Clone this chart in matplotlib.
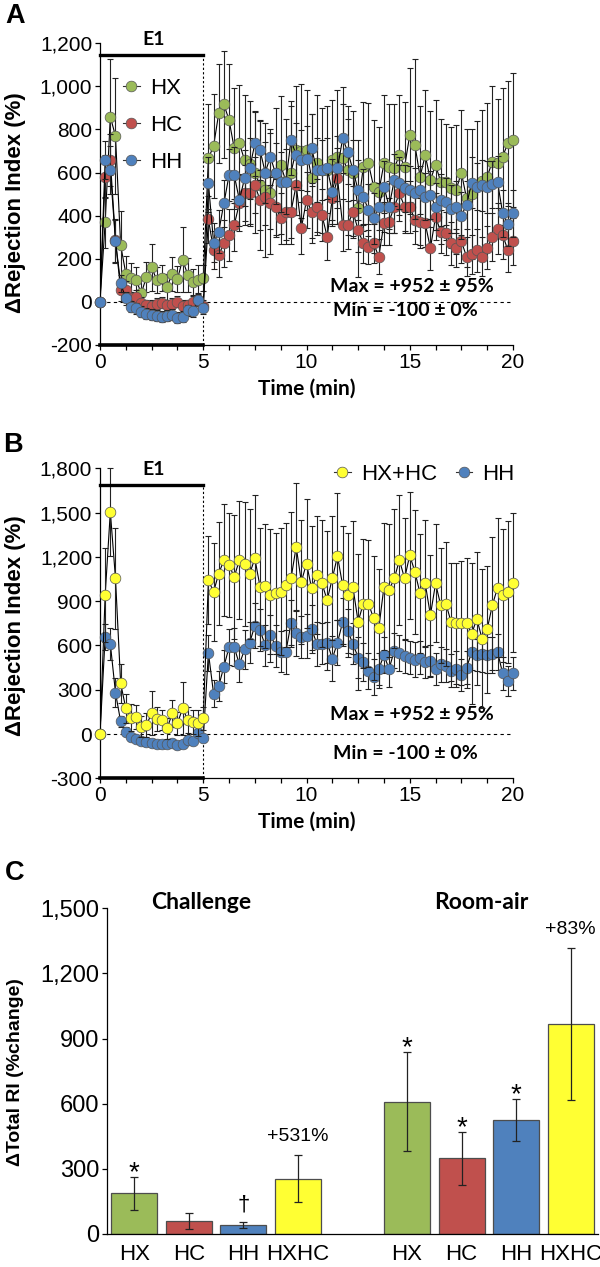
import matplotlib
matplotlib.use("Agg")
import matplotlib.pyplot as plt
from matplotlib.lines import Line2D
import numpy as np

plt.rcParams["font.family"] = ["Liberation Sans", "DejaVu Sans"]

# time grid (min), one reading every 15 s
t = np.arange(0, 20.01, 0.25)

# panel A / B series (% change in rejection index)
hx = [0, 368, 859, 769, 263, 131, 108, 100, 40, 115,
      160, 100, 110, 70, 130, 105, 195, 125, 90, 100,
      110,
      666, 723, 875, 916, 844, 712, 735, 658, 640, 600,
      540, 520, 503, 600, 635, 560, 600, 704, 700, 704,
      573, 642, 611, 611, 658, 673, 666, 611, 596, 433,
      627, 642, 534, 511, 642, 627, 619, 681, 627, 774,
      728, 580, 681, 565, 635, 557, 557, 530, 520, 600,
      480, 500, 540, 560, 581, 650, 643, 674, 736, 752]
hc = [0, 580, 658, 286, 54, 54, 15, 23, -8, -15,
      -20, -10, -5, -15, -10, 0, -20, -15, 0, 10,
      -20,
      382, 240, 217, 271, 310, 356, 457, 503, 503, 542,
      472, 488, 457, 441, 387, 418, 418, 542, 341, 472,
      418, 441, 402, 302, 480, 573, 356, 356, 418, 333,
      271, 255, 271, 209, 364, 372, 441, 503, 441, 441,
      379, 372, 364, 248, 395, 325, 317, 271, 250, 280,
      210, 220, 240, 210, 250, 300, 340, 310, 240, 280]
hh = [0, 658, 611, 280, 85, 15, -23, -31, -46, -55,
      -60, -65, -70, -65, -60, -75, -70, -40, -45, 10,
      -30,
      550, 274, 325, 457, 588, 588, 472, 573, 619, 735,
      704, 600, 673, 596, 557, 557, 750, 681, 658, 665,
      712, 611, 611, 619, 511, 619, 758, 697, 611, 518,
      488, 426, 387, 441, 534, 441, 565, 550, 526, 518,
      503, 518, 488, 495, 441, 472, 464, 430, 440, 400,
      450, 553, 534, 540, 534, 545, 557, 410, 360, 410]
hxhc = [0, 941, 1505, 1054, 343, 174, 110, 117, 50, 61,
        140, 100, 95, 38, 140, 72, 174, 95, 83, 75,
        106,
        1042, 963, 1087, 1178, 1144, 1065, 1178, 1155, 1087, 1189,
        997, 1002, 941, 952, 963, 1008, 1054, 1268, 1031, 1155,
        986, 1076, 1020, 907, 1054, 1205, 1008, 941, 993, 760,
        884, 884, 783, 715, 997, 975, 1054, 1178, 1054, 1211,
        1099, 952, 1020, 805, 1020, 873, 884, 760, 750, 750,
        750, 680, 780, 645, 710, 873, 990, 940, 960, 1024]

hx_err = [0, 120, 270, 270, 160, 80, 70, 60, 60, 70,
          110, 60, 60, 60, 80, 60, 150, 80, 60, 70,
          60,
          250, 240, 230, 250, 260, 280, 270, 300, 290, 280,
          300, 310, 280, 300, 320, 290, 330, 300, 310, 280,
          300, 320, 290, 300, 280, 310, 330, 300, 290, 320,
          300, 280, 310, 300, 320, 290, 300, 280, 300, 310,
          400, 330, 300, 320, 300, 290, 270, 280, 300, 290,
          320, 300, 300, 330, 340, 350, 300, 320, 290, 310]
hc_err = [0, 100, 120, 100, 50, 40, 30, 30, 30, 25,
          30, 25, 25, 25, 25, 25, 30, 25, 25, 30,
          30,
          110, 90, 100, 110, 120, 120, 130, 130, 140, 130,
          140, 130, 120, 130, 120, 130, 120, 140, 120, 130,
          120, 130, 120, 110, 130, 140, 120, 110, 120, 100,
          90, 80, 90, 80, 100, 110, 120, 130, 120, 120,
          110, 110, 110, 100, 110, 100, 100, 100, 90, 100,
          90, 90, 100, 90, 100, 110, 120, 110, 100, 110]
hh_err = [0, 90, 110, 100, 40, 30, 25, 25, 25, 25,
          25, 25, 25, 25, 25, 25, 25, 25, 25, 25,
          25,
          120, 90, 100, 110, 120, 130, 120, 130, 140, 150,
          140, 140, 130, 140, 140, 150, 160, 150, 140, 150,
          160, 150, 140, 140, 150, 150, 160, 150, 140, 140,
          130, 120, 120, 110, 120, 120, 120, 120, 110, 110,
          120, 110, 110, 110, 110, 120, 110, 110, 120, 110,
          110, 120, 110, 120, 120, 110, 120, 110, 100, 110]
hxhc_err = [0, 320, 300, 340, 130, 100, 90, 80, 70, 80,
            150, 80, 70, 70, 90, 80, 180, 90, 80, 90,
            80,
            300, 330, 350, 380, 350, 420, 400, 420, 440, 430,
            400, 420, 450, 410, 430, 420, 450, 430, 420, 440,
            420, 400, 430, 470, 420, 430, 400, 420, 450, 460,
            440, 430, 420, 400, 430, 450, 470, 440, 410, 430,
            420, 400, 430, 410, 400, 390, 420, 400, 410, 420,
            440, 480, 450, 470, 430, 460, 470, 450, 480, 470]

# panel C totals
groups = ["HX", "HC", "HH", "HXHC"]
challenge = [187, 61, 40, 255]
challenge_err = [75, 37, 14, 109]
room_air = [610, 349, 525, 966]
room_air_err = [230, 122, 95, 350]
challenge_marks = ["*", "", "\u2020", "+531%"]
room_air_marks = ["*", "*", "*", "+83%"]

GREEN = "#9BBB59"
RED = "#C0504D"
BLUE = "#4F81BD"
YELLOW = "#FFFF33"
colors = [GREEN, RED, BLUE, YELLOW]

W, H = 600, 1267
fig = plt.figure(figsize=(W / 100, H / 100), dpi=100)


def px_axes(left, top, right, bottom):
    return fig.add_axes([left / W, 1 - bottom / H, (right - left) / W, (bottom - top) / H])


def fx(x):
    return x / W


def fy(y):
    return 1 - y / H


BOLD = dict(family="Lato", weight="bold")


def draw_series(ax, y, err, color, z):
    ax.plot(t, y, color="black", lw=0.8, zorder=z)
    eb = ax.errorbar(t, y, yerr=err, fmt="none", ecolor="#222222", elinewidth=0.8,
                     capsize=2, capthick=0.8, zorder=z)
    for art in eb.get_children():
        art.set_clip_on(False)
    ax.plot(t, y, "o", ms=7.7, mfc=color, mec="#555555", mew=0.5,
            clip_on=False, zorder=z + 0.5)


def time_panel(ax, ylo, yhi, step, e1_y, max_y, min_y):
    ax.set_xlim(0, 20)
    ax.set_ylim(ylo, yhi)
    ax.set_yticks(np.arange(ylo, yhi + 1, step))
    ax.set_yticklabels([f"{v:,}" for v in np.arange(ylo, yhi + 1, step)])
    ax.set_xticks([0, 5, 10, 15, 20])
    ax.set_xticks(np.arange(0, 20.01, 1.25), minor=True)
    for s in ["top", "right"]:
        ax.spines[s].set_visible(False)
    ax.spines["left"].set_linewidth(0.9)
    ax.spines["bottom"].set_linewidth(0.9)
    ax.tick_params(axis="both", labelsize=15, length=3.6, width=0.9, direction="out", pad=2)
    ax.tick_params(axis="x", which="minor", length=3.6, width=0.9)
    ax.axhline(0, xmin=0, xmax=1, color="black", lw=0.8, ls=(0, (3, 3)), zorder=1)
    # exposure period bar
    ax.plot([0, 5], [e1_y, e1_y], color="black", lw=2.4, clip_on=False, zorder=6)
    ax.plot([0, 5], [ylo, ylo], color="black", lw=2.6, clip_on=False, zorder=6)
    ax.plot([5, 5], [ylo, e1_y], color="black", lw=0.8, ls=(0, (2, 2)), clip_on=False, zorder=1)
    ax.text(2.6, e1_y + (yhi - ylo) * 0.05, "E1", ha="center", va="center", fontsize=14, **BOLD)
    ax.text(15.1, max_y, "Max = +952 \u00b1 95%", ha="center", va="center", fontsize=14, **BOLD)
    ax.text(14.8, min_y, "Min = -100 \u00b1 0%", ha="center", va="center", fontsize=14, **BOLD)
    ax.set_xlabel("Time (min)", fontsize=15, labelpad=5, **BOLD)


def legend_handle(c):
    return Line2D([], [], color="#333333", lw=0.8, marker="o", ms=7.7, mfc=c, mec="#555555", mew=0.5)


# ---- panel A
axA = px_axes(100, 43.3, 513, 344.8)
draw_series(axA, hx, hx_err, GREEN, 3)
draw_series(axA, hc, hc_err, RED, 4)
draw_series(axA, hh, hh_err, BLUE, 5)
time_panel(axA, -200, 1200, 200, 1146, 70, -39)
axA.legend([legend_handle(c) for c in (GREEN, RED, BLUE)], ["HX", "HC", "HH"],
           loc="upper left", bbox_to_anchor=(fx(123), fy(78)),
           bbox_transform=fig.transFigure, frameon=False, fontsize=16, labelspacing=0.72,
           handlelength=0.75, handletextpad=0.45, borderpad=0, borderaxespad=0)

# ---- panel B
axB = px_axes(100, 468.3, 513, 778.3)
draw_series(axB, hh, hh_err, BLUE, 3)
draw_series(axB, hxhc, hxhc_err, YELLOW, 4)
time_panel(axB, -300, 1800, 300, 1690, 129, -129)
axB.legend([legend_handle(c) for c in (YELLOW, BLUE)], ["HX+HC", "HH"],
           loc="upper left", bbox_to_anchor=(fx(334), fy(464)),
           bbox_transform=fig.transFigure, frameon=False, fontsize=16, ncol=2,
           handlelength=0.75, handletextpad=0.45, columnspacing=0.85, borderpad=0, borderaxespad=0)

# ---- panel C
axC = px_axes(107, 908.3, 598, 1234)
pos_ch = np.arange(4)
pos_ra = np.arange(4) + 5
axC.bar(pos_ch, challenge, width=0.845, color=colors, edgecolor="#4d4d4d", lw=0.9,
        yerr=challenge_err, capsize=3, error_kw=dict(elinewidth=0.9, capthick=0.9, ecolor="#222222"))
axC.bar(pos_ra, room_air, width=0.845, color=colors, edgecolor="#4d4d4d", lw=0.9,
        yerr=room_air_err, capsize=3, error_kw=dict(elinewidth=0.9, capthick=0.9, ecolor="#222222"))
axC.set_xlim(-0.5, 8.5)
axC.set_ylim(0, 1500)
axC.set_yticks(np.arange(0, 1501, 300))
axC.set_yticklabels([f"{v:,}" for v in np.arange(0, 1501, 300)])
axC.set_xticks(list(pos_ch) + list(pos_ra))
axC.set_xticklabels(groups + groups)
for s in ["top", "right"]:
    axC.spines[s].set_visible(False)
axC.spines["left"].set_linewidth(0.9)
axC.spines["bottom"].set_linewidth(0.9)
axC.tick_params(axis="y", labelsize=17, length=3.6, width=0.9, pad=2)
axC.tick_params(axis="x", labelsize=16, length=0, pad=7)

for p, v, e, m in zip(list(pos_ch) + list(pos_ra), challenge + room_air,
                      challenge_err + room_air_err, challenge_marks + room_air_marks):
    if m == "*":
        axC.text(p, v + e - 15, m, ha="center", va="baseline", fontsize=20)
    elif m == "\u2020":
        axC.text(p, v + e + 55, m, ha="center", va="baseline", fontsize=16)
    elif m:
        axC.text(p, v + e + 85, m, ha="center", va="center", fontsize=14)

axC.text(1.22, 1526, "Challenge", ha="center", va="center", fontsize=16.5, **BOLD)
axC.text(6.37, 1526, "Room-air", ha="center", va="center", fontsize=16.5, **BOLD)

# axis titles and panel letters
fig.text(fx(16), fy(203), "\u0394Rejection Index (%)", rotation=90, ha="center", va="center",
         fontsize=16, weight="bold")
fig.text(fx(16), fy(626), "\u0394Rejection Index (%)", rotation=90, ha="center", va="center",
         fontsize=16, weight="bold")
fig.text(fx(16), fy(1072), "\u0394Total RI (%change)", rotation=90, ha="center", va="center",
         fontsize=14, weight="bold")
for letter, (x, y) in zip("ABC", [(15, 16), (13, 445), (15, 873)]):
    fig.text(fx(x), fy(y), letter, ha="center", va="center", fontsize=19.5, weight="bold")

fig.savefig("out.png", dpi=100)
